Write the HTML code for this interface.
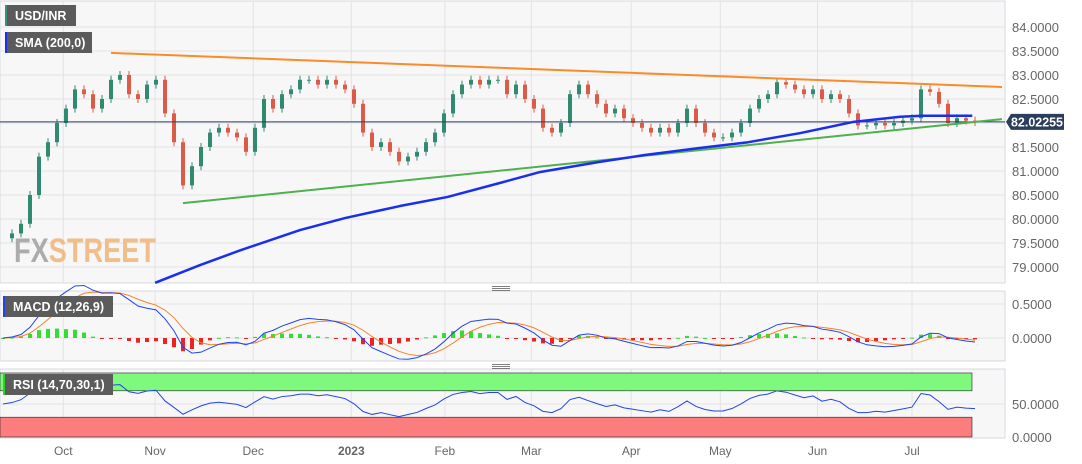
<!DOCTYPE html>
<html><head><meta charset="utf-8"><style>
html,body{margin:0;padding:0;background:#fff;width:1082px;height:464px;overflow:hidden}
svg{display:block;font-family:"Liberation Sans",sans-serif}
</style></head><body>
<svg id="c" width="1082" height="464"></svg>
<script>
const closes=[79.6,79.7,79.9,80.5,81.3,81.6,82.0,82.3,82.7,82.6,82.3,82.5,82.9,83.0,82.6,82.5,82.8,82.9,82.2,81.6,80.7,81.1,81.5,81.8,81.9,81.8,81.7,81.4,81.9,82.5,82.3,82.6,82.7,82.9,82.9,82.8,82.9,82.8,82.7,82.4,81.8,81.5,81.6,81.4,81.2,81.3,81.4,81.6,81.8,82.2,82.6,82.8,82.9,82.8,82.9,82.9,82.6,82.8,82.5,82.3,81.9,81.8,82.0,82.6,82.8,82.6,82.4,82.2,82.3,82.1,82.0,81.9,81.8,81.9,81.8,82.0,82.3,82.0,81.8,81.7,81.7,81.8,82.0,82.3,82.5,82.6,82.85,82.8,82.7,82.6,82.7,82.5,82.6,82.5,82.2,81.95,81.95,82.0,81.95,82.0,82.05,82.1,82.7,82.65,82.4,82.0,82.1,82.05,82.02];
const smaIdx=[16.9,21.9,26.4,33,38,44.1,49.4,55.2,59.7,66.3,71.2,77.4,82.8,88.6,94.4,99.7,102.1,107.7];
const smaVal=[78.67,79.04,79.35,79.77,80.02,80.27,80.46,80.75,80.98,81.19,81.33,81.48,81.6,81.79,82.02,82.13,82.15,82.15];
const resistIdx=[12,111];const resistVal=[83.46,82.75];
const supportIdx=[20,111];const supportVal=[80.33,82.08];
const priceTicks=[84,83.5,83,82.5,81.5,81,80.5,80,79.5,79];
const macdTicks=[0.5,0];
const rsiTicks=[50,0];
const months=["Oct","Nov","Dec","2023","Feb","Mar","Apr","May","Jun","Jul"];
const monthIdx=[6.7,16.9,27.8,38.7,49.1,58.7,69.8,79.7,90.5,101];
const lastPrice=82.02255;

const svg=document.getElementById('c');const NS='http://www.w3.org/2000/svg';
function el(t,a,p){const e=document.createElementNS(NS,t);for(const k in a)e.setAttribute(k,a[k]);(p||svg).appendChild(e);return e;}
const X=i=>3+i*9;
const PY=p=>27+(84-p)*48;
const MY=v=>338-v*68;
const RY=v=>437-v*0.66;
let g;
g=el('rect',{x:0,y:1,width:1005,height:282,fill:'#f7f7f7',stroke:'#d5d8e0'});
g=el('rect',{x:0,y:291,width:1005,height:70,fill:'#f7f7f7',stroke:'#d5d8e0'});
g=el('rect',{x:0,y:369,width:1005,height:69,fill:'#f7f7f7',stroke:'#d5d8e0'});
monthIdx.forEach(m=>{[[1,283],[291,361],[369,438]].forEach(r=>{el('line',{x1:X(m),x2:X(m),y1:r[0],y2:r[1],stroke:'#e3e3e6'});});});
[84,83.5,83,82.5,82,81.5,81,80.5,80,79.5,79].forEach(p=>el('line',{x1:0,x2:1005,y1:PY(p),y2:PY(p),stroke:'#e3e3e6'}));
[0.5,0].forEach(v=>el('line',{x1:0,x2:1005,y1:MY(v),y2:MY(v),stroke:'#e3e3e6'}));
g=el('rect',{x:0,y:RY(97),width:972,height:RY(70)-RY(97),fill:'#7ef97e',stroke:'#222','stroke-width':0.6});
g=el('rect',{x:0,y:RY(30),width:972,height:RY(0)-RY(30),fill:'#fb7d7d',stroke:'#222','stroke-width':0.6});
el('line',{x1:0,x2:1005,y1:RY(50),y2:RY(50),stroke:'#e3e3e6'});
g=el('text',{x:14,y:262,'font-size':34,'font-weight':'bold',transform:'scale(0.8,1)','transform-origin':'14 262'});

g.innerHTML='<tspan fill="#9a9a9a" opacity="0.8">FX</tspan><tspan fill="#f0b577" opacity="0.85">STREET</tspan>';
closes.forEach((c,i)=>{if(!i)return;const o=closes[i-1];const up=c>=o;const col=up?'#2f8a6f':'#dc5a48';
const top=PY(Math.max(o,c)),bot=PY(Math.min(o,c));
const l=el('line',{x1:X(i),x2:X(i),y1:top-4,y2:bot+4,stroke:col,'stroke-width':1});

const r=el('rect',{x:X(i)-2,y:top,width:4,height:Math.max(1,bot-top),fill:col});
});
el('line',{x1:0,x2:1005,y1:PY(lastPrice),y2:PY(lastPrice),stroke:'#2b3e5c','stroke-width':1});
g=el('line',{x1:X(resistIdx[0]),y1:PY(resistVal[0]),x2:X(resistIdx[1]),y2:PY(resistVal[1]),stroke:'#fb8a2a','stroke-width':2});
g=el('line',{x1:X(supportIdx[0]),y1:PY(supportVal[0]),x2:X(supportIdx[1]),y2:PY(supportVal[1]),stroke:'#4fb04f','stroke-width':2});
g=el('polyline',{points:smaIdx.map((v,k)=>X(v)+','+PY(smaVal[k])).join(' '),fill:'none',stroke:'#1a2ef0','stroke-width':2.5,'stroke-linejoin':'round'});
function ema(a,n){const k=2/(n+1);const o=[];a.forEach((v,i)=>o.push(i?o[i-1]+k*(v-o[i-1]):v));return o;}
const ef=ema(closes,6),es=ema(closes,13);const macd=ef.map((v,i)=>v-es[i]);const sig=ema(macd,4.5);
macd.forEach((m,i)=>{const h=(m-sig[i])*0.7;const r=el('rect',{x:X(i)-2,y:Math.min(MY(0),MY(h)),width:4,height:Math.max(1,Math.abs(MY(h)-MY(0))),fill:h>=0?'#33dd33':'#ee2222'});
});
g=el('polyline',{points:sig.map((v,i)=>X(i)+','+MY(v)).join(' '),fill:'none',stroke:'#f5832a','stroke-width':1});
g=el('polyline',{points:macd.map((v,i)=>X(i)+','+MY(v)).join(' '),fill:'none',stroke:'#2244ee','stroke-width':1});
const rsi=[];let ag=0.12,al=0.12;closes.forEach((c,i)=>{if(i){const d=c-closes[i-1];ag=(ag*9+Math.max(d,0))/10;al=(al*9+Math.max(-d,0))/10;}rsi.push(100-100/(1+ag/al));});
g=el('polyline',{points:rsi.map((v,i)=>X(i)+','+RY(v)).join(' '),fill:'none',stroke:'#2244ee','stroke-width':1});
priceTicks.forEach(p=>{const t=el('text',{x:1012,y:PY(p)+5,'font-size':13,fill:'#666'});t.textContent=p.toFixed(4);});
macdTicks.forEach(v=>{const t=el('text',{x:1012,y:MY(v)+5,'font-size':13,fill:'#666'});t.textContent=v.toFixed(4);});
rsiTicks.forEach(v=>{const t=el('text',{x:1012,y:RY(v)+5,'font-size':13,fill:'#666'});t.textContent=v.toFixed(4);});
months.forEach((m,k)=>{const t=el('text',{x:X(monthIdx[k]),y:455,'font-size':12,fill:'#666','text-anchor':'middle','font-weight':m==='2023'?'bold':'normal'});t.textContent=m;});
g=el('path',{d:`M1006 ${PY(lastPrice)} L1011 ${PY(lastPrice)-8} H1064 V${PY(lastPrice)+8} H1011 Z`,fill:'#2b3e5c'});
g=el('text',{x:1011,y:PY(lastPrice)+4.5,'font-size':12.5,'font-weight':'bold',fill:'#fff',textLength:52,lengthAdjust:'spacingAndGlyphs'});g.textContent=lastPrice.toFixed(5);
function box(x,y,w,h,txt,bc,name){const gg=el('g',{});
el('rect',{x:x,y:y,width:w,height:h,fill:'#5b5b5b'},gg);el('rect',{x:x,y:y,width:2,height:h,fill:bc},gg);
const t=el('text',{x:x+10,y:y+h/2+4.5,'font-size':12.5,'font-weight':'bold',fill:'#fff'},gg);t.textContent=txt;}
box(5,5,71,21,'USD/INR','#3b8f78','symbol-legend');
box(5,32,87,21,'SMA (200,0)','#1a2ef0','sma-legend');
box(3,296,110,21,'MACD (12,26,9)','#2244ee','macd-legend');
box(3,374,110,21,'RSI (14,70,30,1)','#3c3','rsi-legend');
[286,364].forEach(y=>{[0,2,4].forEach(d=>el('line',{x1:492,x2:510,y1:y+d+0.5,y2:y+d+0.5,stroke:'#555','stroke-width':0.8}));});
</script>
</body></html>
